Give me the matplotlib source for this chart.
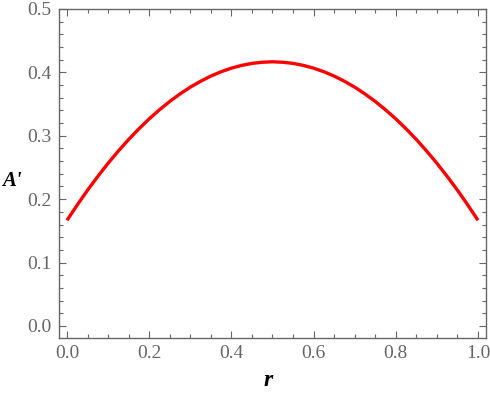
#Plot of A' against r, Mathematica-style frame.

import matplotlib
matplotlib.use("Agg")
import matplotlib.pyplot as plt
from matplotlib.ticker import MultipleLocator

r = [0.0, 0.025, 0.05, 0.075, 0.1, 0.125, 0.15, 0.175, 0.2, 0.225, 0.25,
     0.275, 0.3, 0.325, 0.35, 0.375, 0.4, 0.425, 0.45, 0.475, 0.5,
     0.525, 0.55, 0.575, 0.6, 0.625, 0.65, 0.675, 0.7, 0.725, 0.75,
     0.775, 0.8, 0.825, 0.85, 0.875, 0.9, 0.925, 0.95, 0.975, 1.0]
a_prime = [0.1667, 0.1910, 0.2142, 0.2360, 0.2567, 0.2760, 0.2942, 0.3110, 0.3267, 0.3410, 0.3542,
           0.3660, 0.3767, 0.3860, 0.3942, 0.4010, 0.4067, 0.4110, 0.4142, 0.4160, 0.4167,
           0.4160, 0.4142, 0.4110, 0.4067, 0.4010, 0.3942, 0.3860, 0.3767, 0.3660, 0.3542,
           0.3410, 0.3267, 0.3110, 0.2942, 0.2760, 0.2567, 0.2360, 0.2142, 0.1910, 0.1667]

x_ticks = [0.0, 0.2, 0.4, 0.6, 0.8, 1.0]
y_ticks = [0.0, 0.1, 0.2, 0.3, 0.4, 0.5]

gray = "#666666"
plt.rcParams['font.family'] = ['Liberation Serif', 'DejaVu Serif']

fig = plt.figure(figsize=(4.9, 3.94), dpi=100)
ax = fig.add_axes([0.1194, 0.1421, 0.8724, 0.8351])

ax.plot(r, a_prime, color="red", lw=2.4, solid_capstyle="butt")

ax.set_xlim(-0.0207, 1.0195)
ax.set_ylim(-0.019, 0.5)
ax.set_xticks(x_ticks)
ax.set_yticks(y_ticks)
ax.set_xticklabels([f"{v:.1f}" for v in x_ticks])
ax.set_yticklabels([f"{v:.1f}" for v in y_ticks])
ax.xaxis.set_minor_locator(MultipleLocator(0.05))
ax.yaxis.set_minor_locator(MultipleLocator(0.02))

ax.tick_params(which="both", direction="in", top=True, right=True,
               color=gray, labelcolor=gray, labelsize=14, width=0.8)
ax.tick_params(which="major", length=5, pad=5)
ax.tick_params(which="minor", length=3)
for s in ax.spines.values():
    s.set_color(gray)
    s.set_linewidth(1.0)

fig.text(12 / 490, 1 - 181 / 394, "A'", fontsize=15, fontweight="bold",
         fontstyle="italic", ha="center", va="center")
fig.text(268 / 490, 1 - 381 / 394, "r", fontsize=17, fontweight="bold",
         fontstyle="italic", ha="center", va="center")

fig.savefig("out.png", dpi=100)
